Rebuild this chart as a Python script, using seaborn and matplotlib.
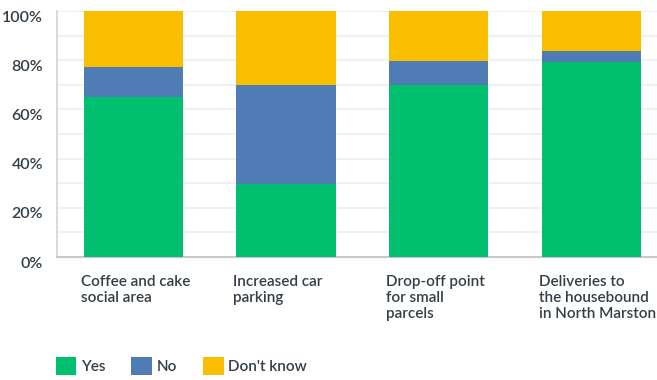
import numpy as np
import pandas as pd
import matplotlib
matplotlib.use("Agg")
import matplotlib.pyplot as plt
import matplotlib.transforms as mtransforms
from matplotlib.patches import Patch
import seaborn as sns

# ── data ─────────────────────────────────────────────
categories = ["Coffee and cake\nsocial area",
              "Increased car\nparking",
              "Drop-off point\nfor small\nparcels",
              "Deliveries to\nthe housebound\nin North Marston"]
series = ["Yes", "No", "Don't know"]
yes_vals = [64.9, 29.8, 69.9, 79.4]
no_vals = [12.3, 40.1, 9.8, 4.3]
dk_vals = [22.8, 30.1, 20.3, 16.3]
yticks = [0, 20, 40, 60, 80, 100]

colors = {"Yes": "#00BF6F", "No": "#507CB6", "Don't know": "#F9BE00"}
TEXT = "#333E48"
BAR_W = 0.65

sns.set_theme(style="white")
plt.rcParams["font.family"] = ["Lato", "DejaVu Sans"]

df = pd.DataFrame({"cat": categories, "Yes": yes_vals,
                   "No": no_vals, "Don't know": dk_vals})
df["c_yes"] = df["Yes"]
df["c_no"] = df["c_yes"] + df["No"]
df["c_dk"] = df["c_no"] + df["Don't know"]

fig = plt.figure(figsize=(6.57, 3.80), dpi=100)
ax = fig.add_axes([57 / 657, 123 / 380, 600 / 657, 246 / 380])

# draw back to front: cumulative totals
for col, name in [("c_dk", "Don't know"), ("c_no", "No"), ("c_yes", "Yes")]:
    sns.barplot(data=df, x="cat", y=col, color=colors[name], width=BAR_W,
                saturation=1, ax=ax, zorder=3, linewidth=0)

ax.set_ylim(0, 100)
ax.set_xlim(-0.5, 3.43)
ax.set_yticks(yticks)
ax.set_yticks(np.arange(10, 100, 20), minor=True)
ax.set_yticklabels([f"{v}%" for v in yticks], color=TEXT, fontsize=11.5,
                   fontweight="semibold")
ax.grid(axis="y", which="both", color="#EDEDED", linewidth=1.2, zorder=0)
ax.tick_params(axis="y", which="both", length=0, pad=10)
shift = mtransforms.ScaledTranslation(0, -5 / 100, fig.dpi_scale_trans)
for lab in ax.get_yticklabels():
    lab.set_transform(lab.get_transform() + shift)

ax.set_xticks([i - BAR_W / 2 - 0.02 for i in range(len(categories))])
ax.set_xticklabels(categories, ha="left", va="top", color=TEXT, fontsize=11,
                   fontweight="semibold", linespacing=1.2)
ax.tick_params(axis="x", length=0, pad=13)
ax.set_xlabel("")
ax.set_ylabel("")

for s in ["top", "right"]:
    ax.spines[s].set_visible(False)
ax.spines["left"].set_color("#D5D5D5")
ax.spines["bottom"].set_color("#C8C8C8")
ax.spines["bottom"].set_linewidth(1.5)

handles = [Patch(facecolor=colors[s], edgecolor="none", label=s) for s in series]
fig.legend(handles=handles, loc="center left", bbox_to_anchor=(42 / 657, 14 / 380),
           ncol=3, frameon=False, handlelength=1.35, handleheight=1.35,
           handletextpad=0.3, columnspacing=1.7, labelcolor=TEXT,
           prop={"weight": "semibold", "size": 11})

fig.savefig("out.png", dpi=100)
